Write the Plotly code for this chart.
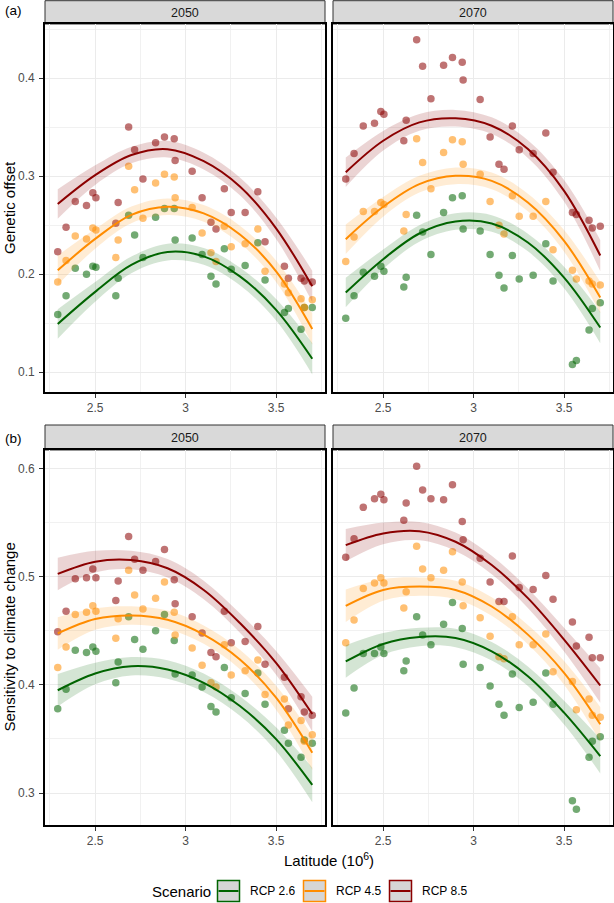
import plotly.graph_objects as go

W, H = 614, 903
FONT = "Liberation Sans, Arial, Helvetica, sans-serif"

# ---------------- data ----------------
lat = [2.293, 2.339, 2.390, 2.452, 2.487, 2.504, 2.614, 2.627, 2.685, 2.718,
       2.764, 2.834, 2.883, 2.937, 2.942, 3.036, 3.091, 3.140, 3.168, 3.214,
       3.252, 3.329, 3.399, 3.439, 3.546, 3.568, 3.638, 3.656, 3.700]

scenarios = ["RCP 2.6", "RCP 4.5", "RCP 8.5"]
years = ["2050", "2070"]

# Genetic offset
go_2050_rcp26 = [0.159, 0.178, 0.206, 0.200, 0.208, 0.207, 0.178, 0.196, 0.260, 0.240,
                 0.217, 0.258, 0.267, 0.267, 0.235, 0.237, 0.220, 0.198, 0.190, 0.226,
                 0.205, 0.209, 0.232, 0.194, 0.161, 0.165, 0.144, 0.166, 0.166]
go_2050_rcp45 = [0.192, 0.214, 0.239, 0.236, 0.247, 0.245, 0.217, 0.235, 0.310, 0.286,
                 0.257, 0.293, 0.302, 0.299, 0.278, 0.268, 0.242, 0.222, 0.213, 0.249,
                 0.228, 0.231, 0.246, 0.203, 0.190, 0.181, 0.175, 0.166, 0.174]
go_2050_rcp85 = [0.223, 0.248, 0.274, 0.270, 0.283, 0.278, 0.252, 0.273, 0.350, 0.327,
                 0.297, 0.334, 0.340, 0.338, 0.316, 0.305, 0.278, 0.253, 0.246, 0.287,
                 0.263, 0.263, 0.284, 0.233, 0.208, 0.196, 0.196, 0.193, 0.192]
go_2070_rcp26 = [0.155, 0.178, 0.202, 0.198, 0.208, 0.203, 0.187, 0.197, 0.260, 0.243,
                 0.220, 0.263, 0.278, 0.280, 0.246, 0.244, 0.220, 0.199, 0.186, 0.219,
                 0.195, 0.199, 0.231, 0.193, 0.108, 0.112, 0.143, 0.165, 0.171]
go_2070_rcp45 = [0.213, 0.238, 0.264, 0.264, 0.273, 0.271, 0.244, 0.261, 0.338, 0.314,
                 0.287, 0.324, 0.337, 0.335, 0.312, 0.302, 0.274, 0.250, 0.241, 0.280,
                 0.259, 0.259, 0.274, 0.225, 0.204, 0.195, 0.193, 0.190, 0.189]
go_2070_rcp85 = [0.297, 0.323, 0.351, 0.354, 0.366, 0.363, 0.336, 0.357, 0.439, 0.412,
                 0.379, 0.413, 0.421, 0.416, 0.398, 0.378, 0.340, 0.312, 0.307, 0.351,
                 0.327, 0.323, 0.344, 0.304, 0.263, 0.261, 0.255, 0.247, 0.249]

# Sensitivity to climate change
scc_2050_rcp26 = [0.378, 0.396, 0.432, 0.430, 0.435, 0.431, 0.402, 0.421, 0.463, 0.442,
                  0.433, 0.450, 0.465, 0.441, 0.410, 0.409, 0.398, 0.380, 0.375, 0.416,
                  0.388, 0.392, 0.411, 0.382, 0.358, 0.346, 0.333, 0.349, 0.346]
scc_2050_rcp45 = [0.416, 0.435, 0.465, 0.467, 0.473, 0.468, 0.443, 0.461, 0.506, 0.483,
                  0.470, 0.480, 0.495, 0.467, 0.446, 0.434, 0.418, 0.402, 0.398, 0.437,
                  0.409, 0.413, 0.423, 0.391, 0.387, 0.363, 0.367, 0.348, 0.354]
scc_2050_rcp85 = [0.449, 0.468, 0.498, 0.499, 0.507, 0.499, 0.478, 0.496, 0.537, 0.516,
                  0.506, 0.514, 0.525, 0.497, 0.475, 0.463, 0.448, 0.430, 0.426, 0.468,
                  0.439, 0.440, 0.454, 0.419, 0.407, 0.378, 0.389, 0.375, 0.372]
scc_2070_rcp26 = [0.374, 0.397, 0.429, 0.429, 0.435, 0.429, 0.413, 0.422, 0.463, 0.446,
                  0.437, 0.456, 0.476, 0.452, 0.419, 0.416, 0.399, 0.382, 0.372, 0.410,
                  0.379, 0.384, 0.411, 0.382, 0.293, 0.285, 0.333, 0.348, 0.352]
scc_2070_rcp45 = [0.439, 0.460, 0.489, 0.494, 0.499, 0.494, 0.471, 0.486, 0.528, 0.507,
                  0.499, 0.506, 0.523, 0.495, 0.473, 0.462, 0.445, 0.426, 0.424, 0.463,
                  0.437, 0.437, 0.447, 0.412, 0.403, 0.377, 0.387, 0.372, 0.370]
scc_2070_rcp85 = [0.518, 0.535, 0.564, 0.572, 0.576, 0.571, 0.552, 0.568, 0.602, 0.580,
                  0.572, 0.571, 0.585, 0.551, 0.534, 0.517, 0.495, 0.477, 0.477, 0.519,
                  0.490, 0.488, 0.501, 0.479, 0.458, 0.436, 0.444, 0.425, 0.425]

# Smoothed trend
fit_lat = [2.293, 2.5, 2.7, 2.9, 3.1, 3.3, 3.5, 3.7]
fit_go_2050_rcp26 = [0.1493, 0.1820, 0.2095, 0.2226, 0.2182, 0.1978, 0.1637, 0.1138]
fit_go_2050_rcp45 = [0.2040, 0.2360, 0.2605, 0.2688, 0.2620, 0.2405, 0.2030, 0.1442]
fit_go_2050_rcp85 = [0.2716, 0.3010, 0.3215, 0.3275, 0.3153, 0.2895, 0.2468, 0.1876]
fit_go_2070_rcp26 = [0.1813, 0.2153, 0.2415, 0.2537, 0.2517, 0.2323, 0.1966, 0.1456]
fit_go_2070_rcp45 = [0.2357, 0.2687, 0.2918, 0.3003, 0.2952, 0.2731, 0.2340, 0.1762]
fit_go_2070_rcp85 = [0.3040, 0.3361, 0.3548, 0.3590, 0.3514, 0.3276, 0.2850, 0.2190]
fit_scc_2050_rcp26 = [0.3950, 0.4105, 0.4172, 0.4142, 0.4019, 0.3804, 0.3498, 0.3075]
fit_scc_2050_rcp45 = [0.4475, 0.4608, 0.4641, 0.4601, 0.4464, 0.4234, 0.3881, 0.3373]
fit_scc_2050_rcp85 = [0.5025, 0.5138, 0.5153, 0.5077, 0.4877, 0.4571, 0.4203, 0.3730]
fit_scc_2070_rcp26 = [0.4216, 0.4378, 0.4442, 0.4433, 0.4310, 0.4080, 0.3743, 0.3342]
fit_scc_2070_rcp45 = [0.4730, 0.4877, 0.4908, 0.4877, 0.4724, 0.4464, 0.4111, 0.3636]
fit_scc_2070_rcp85 = [0.5291, 0.5399, 0.5420, 0.5322, 0.5107, 0.4801, 0.4418, 0.3994]
# confidence band half-widths
se_go = [0.015, 0.010, 0.0085, 0.0085, 0.0085, 0.009, 0.011, 0.016]
se_scc = [0.015, 0.010, 0.0085, 0.0085, 0.0085, 0.009, 0.011, 0.016]

x_ticks = [2.5, 3, 3.5]
x_tick_text = ["2.5", "3", "3.5"]
go_ticks = [0.1, 0.2, 0.3, 0.4]
go_tick_text = ["0.1", "0.2", "0.3", "0.4"]
scc_ticks = [0.3, 0.4, 0.5, 0.6]
scc_tick_text = ["0.3", "0.4", "0.5", "0.6"]

# ---------------- style ----------------
colors = {"RCP 2.6": (0, 100, 0), "RCP 4.5": (255, 140, 0), "RCP 8.5": (139, 0, 0)}


def rgba(c, a):
    return "rgba(%d,%d,%d,%s)" % (c[0], c[1], c[2], a)


def px_x(p):
    return p / W


def px_y(p):
    return 1 - p / H


col_px = [(45, 325), (333, 613)]
row_px = [(24, 392), (450, 825)]
strip_px = [(0.7, 24), (425, 450)]

panels = [
    dict(ax="", row=0, col=0, pts=[go_2050_rcp26, go_2050_rcp45, go_2050_rcp85],
         fits=[fit_go_2050_rcp26, fit_go_2050_rcp45, fit_go_2050_rcp85], se=se_go),
    dict(ax="2", row=0, col=1, pts=[go_2070_rcp26, go_2070_rcp45, go_2070_rcp85],
         fits=[fit_go_2070_rcp26, fit_go_2070_rcp45, fit_go_2070_rcp85], se=se_go),
    dict(ax="3", row=1, col=0, pts=[scc_2050_rcp26, scc_2050_rcp45, scc_2050_rcp85],
         fits=[fit_scc_2050_rcp26, fit_scc_2050_rcp45, fit_scc_2050_rcp85], se=se_scc),
    dict(ax="4", row=1, col=1, pts=[scc_2070_rcp26, scc_2070_rcp45, scc_2070_rcp85],
         fits=[fit_scc_2070_rcp26, fit_scc_2070_rcp45, fit_scc_2070_rcp85], se=se_scc),
]

fig = go.Figure()

for p in panels:
    xa, ya = "x" + p["ax"], "y" + p["ax"]
    for s, yv in zip(scenarios, p["pts"]):
        fig.add_trace(go.Scatter(x=lat, y=yv, mode="markers", xaxis=xa, yaxis=ya,
                                 marker=dict(size=7.5, color=rgba(colors[s], 0.55), line=dict(width=0)),
                                 showlegend=False, hoverinfo="skip"))
    for s, fv in zip(scenarios, p["fits"]):
        upper = [f + e for f, e in zip(fv, p["se"])]
        lower = [f - e for f, e in zip(fv, p["se"])]
        fig.add_trace(go.Scatter(x=fit_lat, y=upper, mode="lines", xaxis=xa, yaxis=ya,
                                 line=dict(width=0, shape="spline", color=rgba(colors[s], 0)),
                                 showlegend=False, hoverinfo="skip"))
        fig.add_trace(go.Scatter(x=fit_lat, y=lower, mode="lines", xaxis=xa, yaxis=ya,
                                 fill="tonexty", fillcolor=rgba(colors[s], 0.17),
                                 line=dict(width=0, shape="spline", color=rgba(colors[s], 0)),
                                 showlegend=False, hoverinfo="skip"))
        fig.add_trace(go.Scatter(x=fit_lat, y=fv, mode="lines", xaxis=xa, yaxis=ya,
                                 line=dict(width=2, shape="spline", color=rgba(colors[s], 1)),
                                 showlegend=False, hoverinfo="skip"))

tickfont = dict(family=FONT, size=12, color="#4D4D4D")
layout = dict(width=W, height=H, margin=dict(l=0, r=0, t=0, b=0),
              paper_bgcolor="white", plot_bgcolor="white", showlegend=False,
              font=dict(family=FONT, color="black"))

for p in panels:
    c0, c1 = col_px[p["col"]]
    r0, r1 = row_px[p["row"]]
    xkey = "xaxis" + p["ax"]
    ykey = "yaxis" + p["ax"]
    layout[xkey] = dict(domain=[px_x(c0), px_x(c1)], anchor="y" + p["ax"],
                        range=[2.2226, 3.7704], tickmode="array", tickvals=x_ticks, ticktext=x_tick_text,
                        ticks="outside", ticklen=4, tickwidth=1, tickcolor="#333333",
                        showline=True, mirror=True, linecolor="black", linewidth=1.6,
                        showgrid=True, gridcolor="#EBEBEB", gridwidth=1.1, zeroline=False,
                        tickfont=tickfont,
                        minor=dict(tickmode="array", tickvals=[2.25, 2.75, 3.25, 3.75], showgrid=True,
                                   gridcolor="#F1F1F1", gridwidth=0.7, ticks=""))
    if p["row"] == 0:
        yr, yt, ytt, ym = [0.0799, 0.4551], go_ticks, go_tick_text, [0.15, 0.25, 0.35, 0.45]
    else:
        yr, yt, ytt, ym = [0.2705, 0.6170], scc_ticks, scc_tick_text, [0.35, 0.45, 0.55]
    ycfg = dict(domain=[px_y(r1), px_y(r0)], anchor="x" + p["ax"], range=yr,
                tickmode="array", tickvals=yt, ticktext=ytt,
                showline=True, mirror=True, linecolor="black", linewidth=1.6,
                showgrid=True, gridcolor="#EBEBEB", gridwidth=1.1, zeroline=False,
                tickfont=tickfont,
                minor=dict(tickmode="array", tickvals=ym, showgrid=True,
                           gridcolor="#F1F1F1", gridwidth=0.7, ticks=""))
    if p["col"] == 0:
        ycfg.update(ticks="outside", ticklen=4, tickwidth=1, tickcolor="#333333",
                    showticklabels=True, ticklabelstandoff=2)
    else:
        ycfg.update(ticks="", showticklabels=False)
    layout[ykey] = ycfg

shapes = []
annotations = []
# facet strips
for ri, (s0, s1) in enumerate(strip_px):
    for ci, (c0, c1) in enumerate(col_px):
        shapes.append(dict(type="rect", xref="paper", yref="paper",
                           x0=px_x(c0), x1=px_x(c1), y0=px_y(s1), y1=px_y(s0),
                           fillcolor="#D9D9D9", line=dict(color="#333333", width=1), layer="below"))
        annotations.append(dict(text=years[ci], xref="paper", yref="paper",
                                x=px_x((c0 + c1) / 2), y=px_y((s0 + s1) / 2 + 0.5),
                                xanchor="center", yanchor="middle", showarrow=False,
                                font=dict(family=FONT, size=12.5, color="#1A1A1A")))

# tags and axis titles
for txt, yy in [("(a)", 10), ("(b)", 438)]:
    annotations.append(dict(text=txt, xref="paper", yref="paper", x=px_x(3), y=px_y(yy),
                            xanchor="left", yanchor="middle", showarrow=False,
                            font=dict(family=FONT, size=13.5, color="black")))
for txt, (r0, r1) in [("Genetic offset", row_px[0]), ("Sensitivity to climate change", row_px[1])]:
    annotations.append(dict(text=txt, xref="paper", yref="paper", x=px_x(9), y=px_y((r0 + r1) / 2),
                            xanchor="center", yanchor="middle", textangle=-90, showarrow=False,
                            font=dict(family=FONT, size=15, color="black")))
annotations.append(dict(text="Latitude (10<sup>6</sup>)", xref="paper", yref="paper",
                        x=px_x((45 + 613) / 2), y=px_y(859), xanchor="center", yanchor="middle",
                        showarrow=False, font=dict(family=FONT, size=15, color="black")))

# legend (drawn manually to mimic ggplot keys)
leg_y = 891
annotations.append(dict(text="Scenario", xref="paper", yref="paper", x=px_x(150), y=px_y(leg_y),
                        xanchor="left", yanchor="middle", showarrow=False,
                        font=dict(family=FONT, size=15, color="black")))
key_x = [217.5, 303.5, 389.5]
for s, kx in zip(scenarios, key_x):
    c = colors[s]
    shapes.append(dict(type="rect", xref="paper", yref="paper",
                       x0=px_x(kx), x1=px_x(kx + 22), y0=px_y(leg_y + 10.5), y1=px_y(leg_y - 10.5),
                       fillcolor="#D6D6D6", line=dict(color=rgba(c, 1), width=1.5)))
    shapes.append(dict(type="line", xref="paper", yref="paper",
                       x0=px_x(kx + 1), x1=px_x(kx + 21), y0=px_y(leg_y), y1=px_y(leg_y),
                       line=dict(color=rgba(c, 1), width=2)))
    annotations.append(dict(text=s, xref="paper", yref="paper", x=px_x(kx + 30), y=px_y(leg_y),
                            xanchor="left", yanchor="middle", showarrow=False,
                            font=dict(family=FONT, size=12, color="black")))

layout["shapes"] = shapes
layout["annotations"] = annotations
fig.update_layout(**layout)
fig.write_html("out.html", config={"displayModeBar": False},
               post_script="document.body.style.margin='0';document.body.style.overflow='hidden';")
